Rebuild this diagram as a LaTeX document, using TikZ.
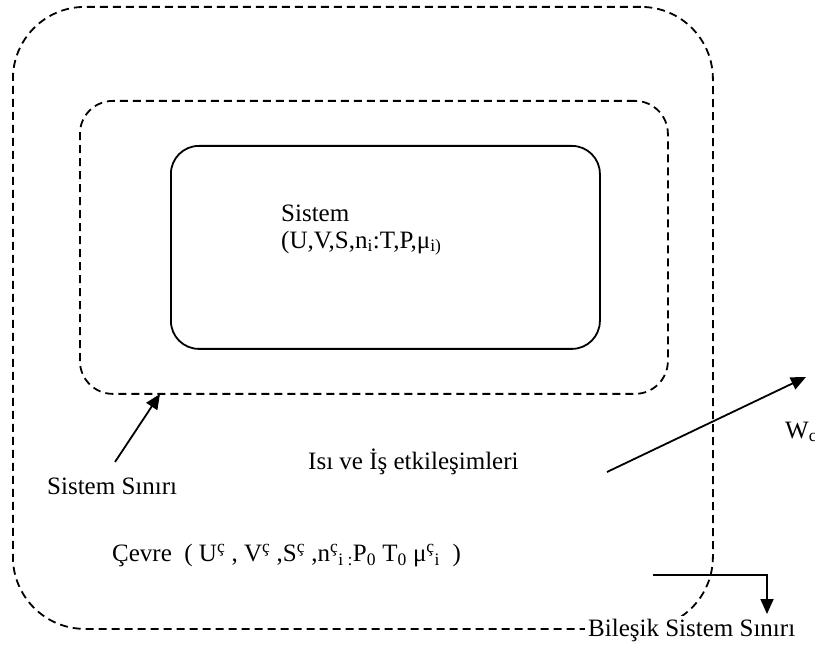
\documentclass[tikz,border=0pt]{standalone}
\usepackage{fontspec}
\setmainfont{Liberation Serif}
\usetikzlibrary{arrows.meta}
\begin{document}
\begin{tikzpicture}[x=1pt,y=-1pt,
  bnd/.style={draw, line width=1.8pt, dash pattern=on 8pt off 5pt, inner sep=0pt, anchor=north west},
  solidbox/.style={draw, line width=1.8pt, inner sep=0pt, anchor=north west, rounded corners=28pt},
  lbl/.style={anchor=west, inner sep=0pt, font=\fontsize{25}{27}\selectfont},
  arr/.style={line width=1.8pt, -{Triangle[length=15pt,width=13pt]}}]
\useasboundingbox (0,0) rectangle (815,660);
\node[bnd, rounded corners=72pt, minimum width=700pt, minimum height=622pt] (outer) at (12,6) {};
\node[bnd, rounded corners=33pt, minimum width=588pt, minimum height=293pt] (inner) at (79,100) {};
\node[solidbox, minimum width=429pt, minimum height=203pt] (box) at (170,145) {};
\node[lbl, align=left] (sys) at (281,230) {Sistem\\(U,V,S,n\textsubscript{i}:T,P,μ\textsubscript{i)}};
\node[lbl] (ssl) at (47,486) {Sistem Sınırı};
\coordinate (ss0) at (115,462);
\coordinate (ss1) at (160,394);
\draw[arr] (ss0) -- (ss1);
\node[lbl] (isi) at (308,462) {Isı ve İş etkileşimleri};
\coordinate (w0) at (607,472);
\coordinate (w1) at (806,377);
\draw[arr] (w0) -- (w1);
\node[lbl] (wc) at (785,432) {W\textsubscript{c}};
\node[lbl] (cev) at (112,556) {Çevre~~( U\textsuperscript{ç} , V\textsuperscript{ç} ,S\textsuperscript{ç} ,n\textsuperscript{ç}\textsubscript{i :}P\textsubscript{0} T\textsubscript{0} μ\textsuperscript{ç}\textsubscript{i}~~)};
\coordinate (b0) at (653,575);
\coordinate (b1) at (767,575);
\coordinate (b2) at (767,614);
\draw[arr] (b0) -- (b1) -- (b2);
\node[lbl, fill=white, inner sep=3pt] (bil) at (585,630) {Bileşik Sistem Sınırı};
\end{tikzpicture}
\end{document}
